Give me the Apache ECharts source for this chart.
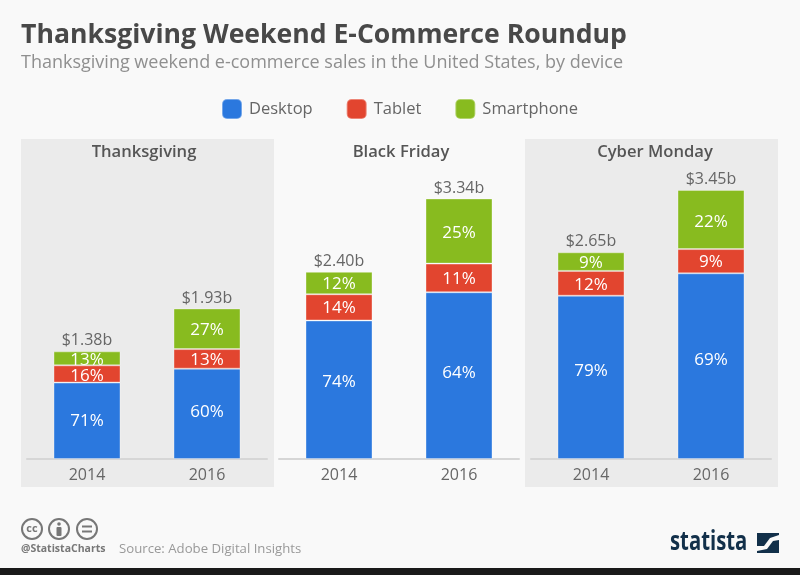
<!DOCTYPE html>
<html><head><meta charset="utf-8">
<style>html,body{margin:0;padding:0;background:#f9f9f9}#c{width:800px;height:575px}</style>
<script src="https://cdn.jsdelivr.net/npm/echarts@6/dist/echarts.min.js"></script>
</head><body><div id="c"></div>
<script>
const panels = ['Thanksgiving', 'Black Friday', 'Cyber Monday'];
const years = ['2014', '2016'];
const totals = [[1.38, 1.93], [2.40, 3.34], [2.65, 3.45]];
const desktop = [[71, 60], [74, 64], [79, 69]];
const tablet = [[16, 13], [14, 11], [12, 9]];
const smartphone = [[13, 27], [12, 25], [9, 22]];
const deviceNames = ['Desktop', 'Tablet', 'Smartphone'];
const deviceShares = [desktop, tablet, smartphone];
const deviceColors = ['#2b78de', '#e2452f', '#88bb1f'];
// vertical nudges of the share labels, per device / panel / year
const labelNudges = [
  [[0, -2], [-8, -2], [-6, -6]],
  [[2, 1], [1, 1], [2, 1]],
  [[2, 1], [1, 2], [2, 3]]
];

const font = '"Open Sans", "Noto Sans", sans-serif';
const gridLefts = [27, 279, 531];
const panelCenters = [139, 396, 650];

const grid = [], xAxis = [], yAxis = [], series = [];
const title = [
  {text: 'Thanksgiving Weekend E-Commerce Roundup', left: 16, top: 17,
   textStyle: {fontFamily: font, fontWeight: 700, fontSize: 26.6, color: '#484848'}},
  {text: 'Thanksgiving weekend e-commerce sales in the United States, by device', left: 16, top: 49,
   textStyle: {fontFamily: font, fontWeight: 400, fontSize: 18, color: '#8f8f8f'}}
];
panels.forEach((p, i) => {
  grid.push({left: gridLefts[i], width: 240, top: 147, height: 312});
  xAxis.push({type: 'category', gridIndex: i, data: years,
    axisLine: {lineStyle: {color: '#d6d6d6', width: 2}}, axisTick: {show: false},
    axisLabel: {fontFamily: font, fontSize: 16, color: '#666', margin: 8}});
  yAxis.push({type: 'value', gridIndex: i, min: 0, max: 4, show: false, splitLine: {show: false}});
  title.push({text: p, left: panelCenters[i], top: 139, textAlign: 'center',
    textStyle: {fontFamily: font, fontWeight: 600, fontSize: 16.6, color: '#555'}});
  deviceNames.forEach((name, d) => {
    series.push({name, type: 'bar', stack: 's' + i, xAxisIndex: i, yAxisIndex: i,
      barWidth: 67,
      data: totals[i].map((t, k) => ({
        value: t * deviceShares[d][i][k] / 100,
        label: {offset: [0, labelNudges[d][i][k]]}
      })),
      itemStyle: {color: deviceColors[d], borderColor: 'rgba(255,255,255,0.35)', borderWidth: 1},
      label: {show: true, position: 'inside', fontFamily: font, fontSize: 17, color: '#fff',
        formatter: o => deviceShares[d][i][o.dataIndex] + '%'}});
  });
  series.push({name: 'Total', type: 'line', xAxisIndex: i, yAxisIndex: i, data: totals[i],
    symbol: 'circle', symbolSize: 1, showSymbol: true, showAllSymbol: true,
    itemStyle: {color: 'rgba(0,0,0,0)'}, lineStyle: {width: 0, color: 'rgba(0,0,0,0)'}, silent: true, z: 5,
    label: {show: true, position: 'top', distance: 2, fontFamily: font, fontSize: 16, color: '#666',
      formatter: o => '$' + o.value.toFixed(2) + 'b'}});
});

const logoColor = '#12304a';
const graphic = [
  {type: 'rect', z: -10, shape: {x: 21, y: 139, width: 253, height: 348}, style: {fill: '#ebebeb'}},
  {type: 'rect', z: -10, shape: {x: 525, y: 139, width: 253, height: 348}, style: {fill: '#ebebeb'}},
  {type: 'rect', z: -10, shape: {x: 0, y: 568, width: 800, height: 7}, style: {fill: '#1a1a1a'}},
  {type: 'circle', shape: {cx: 32, cy: 529, r: 10}, style: {fill: 'none', stroke: '#777', lineWidth: 2}},
  {type: 'text', style: {x: 32, y: 529, text: 'cc', align: 'center', verticalAlign: 'middle', font: '700 11px ' + font, fill: '#777'}},
  {type: 'circle', shape: {cx: 59, cy: 529, r: 10}, style: {fill: 'none', stroke: '#777', lineWidth: 2}},
  {type: 'circle', shape: {cx: 59, cy: 524, r: 1.8}, style: {fill: '#777'}},
  {type: 'rect', shape: {x: 56.5, y: 527, width: 5, height: 9, r: 1}, style: {fill: '#777'}},
  {type: 'circle', shape: {cx: 87, cy: 529, r: 10}, style: {fill: 'none', stroke: '#777', lineWidth: 2}},
  {type: 'rect', shape: {x: 82, y: 525.5, width: 10, height: 2}, style: {fill: '#777'}},
  {type: 'rect', shape: {x: 82, y: 530.5, width: 10, height: 2}, style: {fill: '#777'}},
  {type: 'text', style: {x: 21, y: 549, text: '@StatistaCharts', verticalAlign: 'middle', font: '700 10.5px ' + font, fill: '#777'}},
  {type: 'text', style: {x: 119, y: 549, text: 'Source: Adobe Digital Insights', verticalAlign: 'middle', font: '400 13.2px ' + font, fill: '#999'}},
  {type: 'text', x: 670, y: 543, scaleX: 0.78, style: {x: 0, y: 0, text: 'statista', verticalAlign: 'middle', font: '700 26px "Open Sans", sans-serif', fill: logoColor}},
  {type: 'rect', shape: {x: 757, y: 533, width: 22, height: 20}, style: {fill: logoColor}},
  {type: 'polygon', shape: {points: [[757, 546], [764, 546], [770, 538], [779, 535], [779, 540], [773, 541], [767, 549], [757, 551]]}, style: {fill: '#f9f9f9'}}
];

echarts.init(document.getElementById('c')).setOption({
  animation: false,
  backgroundColor: '#f9f9f9',
  title, grid, xAxis, yAxis, series, graphic,
  legend: {data: deviceNames.map(name => ({name, icon: 'roundRect'})), left: 216, top: 93,
    itemWidth: 20, itemHeight: 20, itemGap: 33, selectedMode: false,
    textStyle: {fontFamily: font, fontSize: 16.5, color: '#666', padding: [0, 0, 0, 2]}}
});
</script></body></html>
